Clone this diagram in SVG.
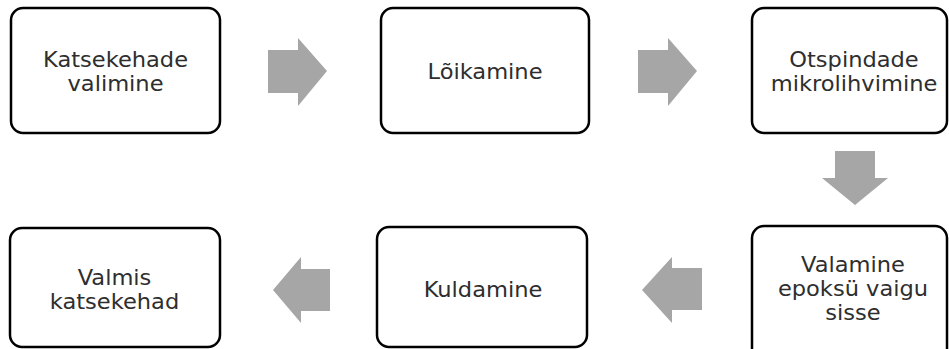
<svg xmlns="http://www.w3.org/2000/svg" width="949" height="349" viewBox="0 0 949 349">
<style>
.box{fill:#ffffff;stroke:#000000;stroke-width:2.5}
.lbl{font-family:"DejaVu Sans","Verdana",sans-serif;font-size:20.5px;fill:#2e2e2e;text-anchor:middle}
.arr{fill:#a6a6a6}
</style>
<rect width="949" height="349" fill="#ffffff"/>
<g id="connectors">
<polygon class="arr" points="268,50 298,50 298,38 327,71 298,106 298,93 268,93"/>
<polygon class="arr" points="638,50 668,50 668,38 697,71 668,106 668,93 638,93"/>
<polygon class="arr" points="835,151 875,151 875,178 888,178 855,205 822,178 835,178"/>
<polygon class="arr" points="702,268 672,268 672,257 642,290 672,323 672,310 702,310"/>
<polygon class="arr" points="330,269 301,269 301,257 273,290 301,323 301,311 330,311"/>
</g>
<g id="n1">
<rect class="box" x="11" y="8" width="209" height="125" rx="12"/>
<g transform="translate(115.5,0) scale(1.1,1)"><text class="lbl" x="0" y="67">Katsekehade</text><text class="lbl" x="0" y="91">valimine</text></g>
</g>
<g id="n2">
<rect class="box" x="381" y="8" width="208" height="125" rx="12"/>
<g transform="translate(485,0) scale(1.1,1)"><text class="lbl" x="0" y="79">Lõikamine</text></g>
</g>
<g id="n3">
<rect class="box" x="752" y="8" width="195" height="125" rx="12"/>
<g transform="translate(854,0) scale(1.1,1)"><text class="lbl" x="0" y="67">Otspindade</text><text class="lbl" x="0" y="91">mikrolihvimine</text></g>
</g>
<g id="n4">
<rect class="box" x="752" y="226" width="195" height="140" rx="12"/>
<g transform="translate(853,0) scale(1.1,1)"><text class="lbl" x="0" y="272">Valamine</text><text class="lbl" x="0" y="296">epoksü vaigu</text><text class="lbl" x="0" y="320">sisse</text></g>
</g>
<g id="n5">
<rect class="box" x="377" y="227" width="210" height="120" rx="12"/>
<g transform="translate(483,0) scale(1.1,1)"><text class="lbl" x="0" y="297">Kuldamine</text></g>
</g>
<g id="n6">
<rect class="box" x="10" y="228" width="210" height="119" rx="12"/>
<g transform="translate(114.5,0) scale(1.1,1)"><text class="lbl" x="0" y="285">Valmis</text><text class="lbl" x="0" y="309">katsekehad</text></g>
</g>
</svg>
